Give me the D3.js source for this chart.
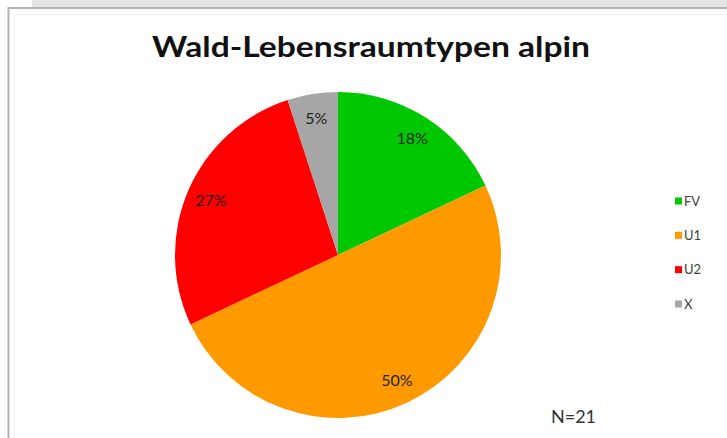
<!DOCTYPE html>
<html>
<head>
<meta charset="utf-8">
<script src="https://cdn.jsdelivr.net/npm/d3@7"></script>
<style>
	body { margin: 0; background: #ffffff; }
	svg { display: block; }
</style>
</head>
<body>
<div id="chart"></div>
<script>
// chart data
const categories = ["FV", "U1", "U2", "X"]
const values = [18, 50, 27, 5]
const sliceColors = ["#00c800", "#ff9900", "#ff0000", "#a6a6a6"]
const titleText = "Wald-Lebensraumtypen alpin"
const noteText = "N=21"

const width = 727
const height = 438
const cx = 338
const cy = 255
const radius = 163

const svg = d3.select("#chart")
	.append("svg")
	.attr("width", width)
	.attr("height", height)

// window frame: grey strip on top and the chart border
svg.append("rect")
	.attr("x", 32)
	.attr("y", 0)
	.attr("width", width - 32)
	.attr("height", 8)
	.attr("fill", "#e4e4e4")
svg.append("path")
	.attr("d", "M8.5," + height + " V8 H" + width)
	.attr("fill", "none")
	.attr("stroke", "#b4b4b4")
	.attr("stroke-width", 2)
svg.append("path")
	.attr("d", "M14.5," + height + " V14.5 H" + width)
	.attr("fill", "none")
	.attr("stroke", "#f0f0f0")
	.attr("stroke-width", 1)

// title
svg.append("text")
	.attr("x", 371)
	.attr("y", 57)
	.attr("text-anchor", "middle")
	.attr("font-family", "Lato, 'Open Sans', sans-serif")
	.attr("font-weight", "bold")
	.attr("font-size", 28)
	.attr("textLength", 438)
	.attr("lengthAdjust", "spacingAndGlyphs")
	.attr("fill", "#111111")
	.text(titleText)

const color = d3.scaleOrdinal()
	.domain(categories)
	.range(sliceColors)

const pie = d3.pie()
	.sort(null)
	.value(function (d, i) { return values[i] })

const arcs = pie(categories)

const arc = d3.arc()
	.innerRadius(0)
	.outerRadius(radius)

const labelArc = d3.arc()
	.innerRadius(radius * 0.85)
	.outerRadius(radius * 0.85)

const g = svg.append("g")
	.attr("transform", "translate(" + cx + "," + cy + ")")

g.selectAll("path.slice")
	.data(arcs)
	.enter()
	.append("path")
	.attr("class", "slice")
	.attr("d", arc)
	.attr("fill", function (d) { return color(d.data) })

// percentage labels
g.selectAll("text.pct")
	.data(arcs)
	.enter()
	.append("text")
	.attr("class", "pct")
	.attr("transform", function (d) { return "translate(" + labelArc.centroid(d) + ")" })
	.attr("text-anchor", "middle")
	.attr("dy", "0.35em")
	.attr("font-family", "Lato, 'Open Sans', sans-serif")
	.attr("font-size", 16)
	.attr("fill", "#222222")
	.text(function (d, i) { return values[i] + "%" })

// legend
const legendY = d3.scalePoint()
	.domain(categories)
	.range([201, 304])

const legend = svg.append("g")
	.selectAll("g")
	.data(categories)
	.enter()
	.append("g")
	.attr("transform", function (d) { return "translate(675," + legendY(d) + ")" })

legend.append("rect")
	.attr("x", 0)
	.attr("y", -3.5)
	.attr("width", 7)
	.attr("height", 7)
	.attr("fill", function (d) { return color(d) })

legend.append("text")
	.attr("x", 9)
	.attr("y", 0)
	.attr("dy", "0.35em")
	.attr("font-family", "Lato, 'Open Sans', sans-serif")
	.attr("font-size", 13)
	.attr("fill", "#404040")
	.text(function (d) { return d })

// sample size note
svg.append("text")
	.attr("x", 551)
	.attr("y", 423)
	.attr("font-family", "Lato, 'Open Sans', sans-serif")
	.attr("font-size", 18)
	.attr("fill", "#333333")
	.text(noteText)
</script>
</body>
</html>
